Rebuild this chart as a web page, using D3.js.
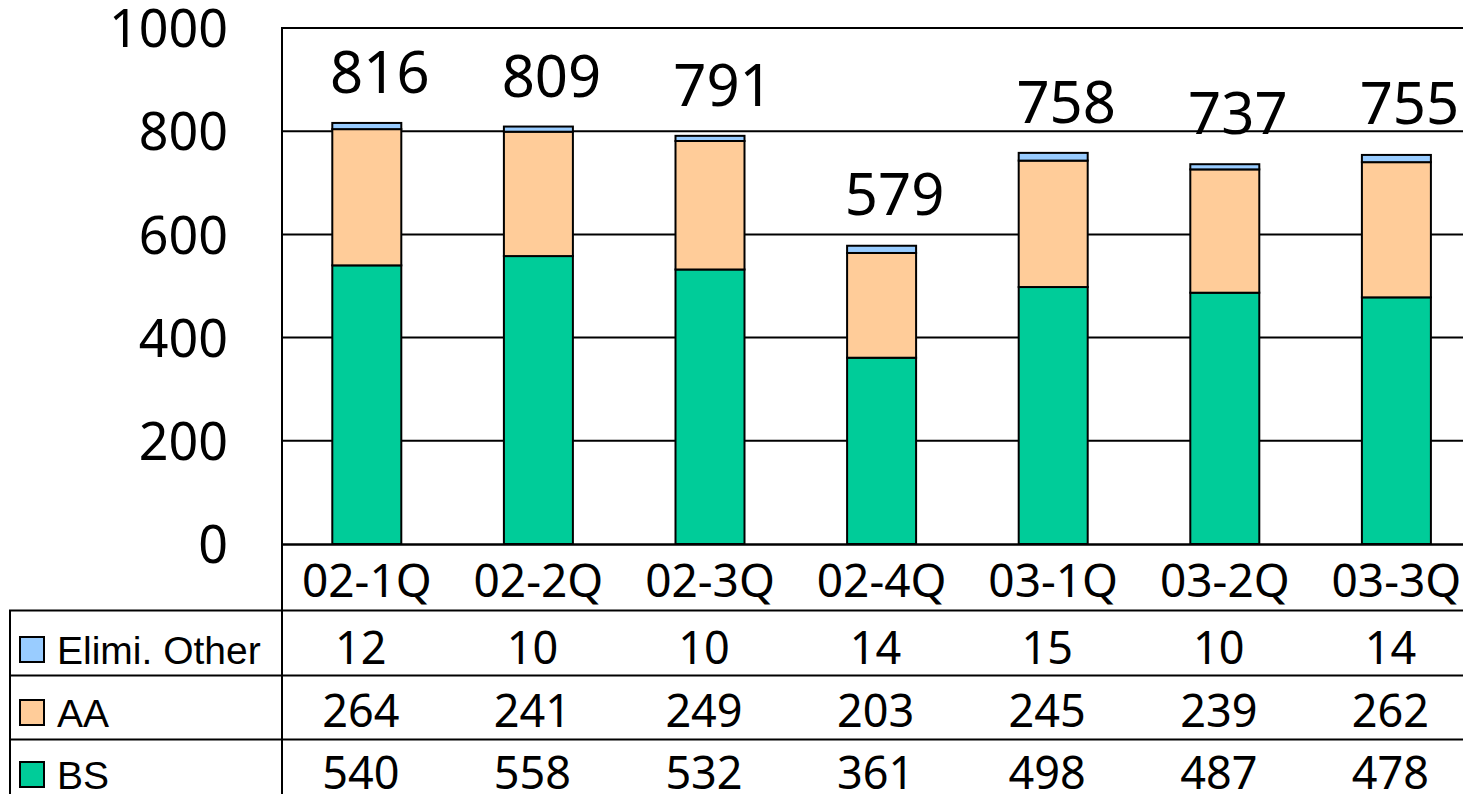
<!DOCTYPE html>
<html>
<head>
<meta charset="utf-8">
<script src="https://cdn.jsdelivr.net/npm/d3@7/dist/d3.min.js"></script>
<style>
  html, body { margin: 0; padding: 0; background: #fff; overflow: hidden; }
  svg { display: block; }
</style>
</head>
<body>
<svg id="chart" width="1463" height="794"></svg>
<script>
// Quarterly sales by segment (stacked), with a data table underneath
const categories = ["02-1Q", "02-2Q", "02-3Q", "02-4Q", "03-1Q", "03-2Q", "03-3Q"];
const bsValues    = [540, 558, 532, 361, 498, 487, 478];
const aaValues    = [264, 241, 249, 203, 245, 239, 262];
const elimValues  = [12, 10, 10, 14, 15, 10, 14];
const totalLabels = [816, 809, 791, 579, 758, 737, 755];
const yTickValues = [0, 200, 400, 600, 800, 1000];

const seriesKeys   = ["BS", "AA", "Elimi. Other"];
const seriesColors = { "BS": "#00CC99", "AA": "#FFCC99", "Elimi. Other": "#99CCFF" };
const tableRows    = ["Elimi. Other", "AA", "BS"];

const rows = categories.map((c, i) => ({
  cat: c, "BS": bsValues[i], "AA": aaValues[i], "Elimi. Other": elimValues[i]
}));
const rowValues = { "Elimi. Other": elimValues, "AA": aaValues, "BS": bsValues };

const numFont = '"Noto Sans"';
const nameFont = '"Liberation Sans"';
const svg = d3.select("#chart");
const W = 1463, H = 794;

// plot frame
const plotLeft = 282, plotTop = 28, plotBottom = 544;
const step = 171.6;
const x = d3.scaleBand().domain(categories)
  .range([281, 281 + step * categories.length]).padding(0);
const y = d3.scaleLinear().domain([0, 1000]).range([plotBottom, plotTop]);
const barW = 69;
const cx = c => x(c) + x.bandwidth() / 2;

// gridlines
svg.append("g").selectAll("line").data(yTickValues.filter(v => v > 0)).join("line")
  .attr("x1", plotLeft).attr("x2", W + 5)
  .attr("y1", d => y(d)).attr("y2", d => y(d))
  .attr("stroke", "#000").attr("stroke-width", 2);

// y axis labels
const yAxis = d3.axisLeft(y).tickValues(yTickValues).tickSize(0).tickPadding(0)
  .tickFormat(d3.format("d"));
const yg = svg.append("g").attr("transform", `translate(${228},0)`).call(yAxis)
  .attr("font-family", null).attr("font-size", null);
yg.select(".domain").remove();
yg.selectAll("text")
  .attr("fill", "#000")
  .style("font-family", numFont)
  .style("font-size", "52px")
  .attr("dy", "0.36em");

// stacked bars
const stack = d3.stack().keys(seriesKeys)(rows);
svg.append("g").selectAll("g").data(stack).join("g")
  .attr("fill", d => seriesColors[d.key])
  .selectAll("rect").data(d => d).join("rect")
  .attr("x", d => cx(d.data.cat) - barW / 2)
  .attr("width", barW)
  .attr("y", d => y(d[1]))
  .attr("height", d => y(d[0]) - y(d[1]))
  .attr("stroke", "#000").attr("stroke-width", 2);

// total labels above each bar
svg.append("g").selectAll("text").data(categories).join("text")
  .attr("x", (c) => cx(c) + 13)
  .attr("y", (c, i) => y(totalLabels[i]) - 30)
  .attr("text-anchor", "middle")
  .attr("fill", "#000")
  .style("font-family", numFont)
  .style("font-size", "58px")
  .text((c, i) => totalLabels[i]);

// table frame and axis line
const rowTops = [610.5, 675.5, 739.5];
const frame = svg.append("g").attr("stroke", "#000").attr("fill", "none");
frame.append("line").attr("x1", plotLeft).attr("x2", W + 5)
  .attr("y1", plotBottom + 0.5).attr("y2", plotBottom + 0.5).attr("stroke-width", 2.5);
frame.append("line").attr("x1", plotLeft).attr("x2", W + 5)
  .attr("y1", plotTop).attr("y2", plotTop).attr("stroke-width", 2);
frame.append("line").attr("x1", plotLeft).attr("x2", plotLeft)
  .attr("y1", plotTop - 1).attr("y2", H + 5).attr("stroke-width", 2);
frame.append("line").attr("x1", 10).attr("x2", 10)
  .attr("y1", rowTops[0]).attr("y2", H + 5).attr("stroke-width", 2);
frame.selectAll(".rowline").data(rowTops).join("line").attr("class", "rowline")
  .attr("x1", 9).attr("x2", W + 5)
  .attr("y1", d => d).attr("y2", d => d).attr("stroke-width", 2);

// category labels under the axis
const xAxis = d3.axisBottom(x).tickSize(0).tickPadding(0);
const xg = svg.append("g").attr("transform", `translate(0,${597})`).call(xAxis)
  .attr("font-family", null).attr("font-size", null);
xg.select(".domain").remove();
xg.selectAll("text")
  .attr("fill", "#000")
  .style("font-family", numFont)
  .style("font-size", "46px")
  .attr("dx", 0)
  .attr("dy", 0)
  .attr("y", 0);

// table rows: legend swatch, series name and values
const baselines = [664, 727, 789];
tableRows.forEach((key, r) => {
  const g = svg.append("g");
  g.append("rect")
    .attr("x", 20).attr("y", baselines[r] - 27)
    .attr("width", 24).attr("height", 25)
    .attr("fill", seriesColors[key]).attr("stroke", "#000").attr("stroke-width", 2);
  g.append("text")
    .attr("x", 57).attr("y", baselines[r])
    .attr("fill", "#000")
    .style("font-family", nameFont)
    .style("font-size", "39px")
    .text(key);
  g.selectAll(".val").data(categories).join("text").attr("class", "val")
    .attr("x", c => cx(c) - 6)
    .attr("y", baselines[r])
    .attr("text-anchor", "middle")
    .attr("fill", "#000")
    .style("font-family", numFont)
    .style("font-size", "45px")
    .text((c, i) => rowValues[key][i]);
});
</script>
</body>
</html>
